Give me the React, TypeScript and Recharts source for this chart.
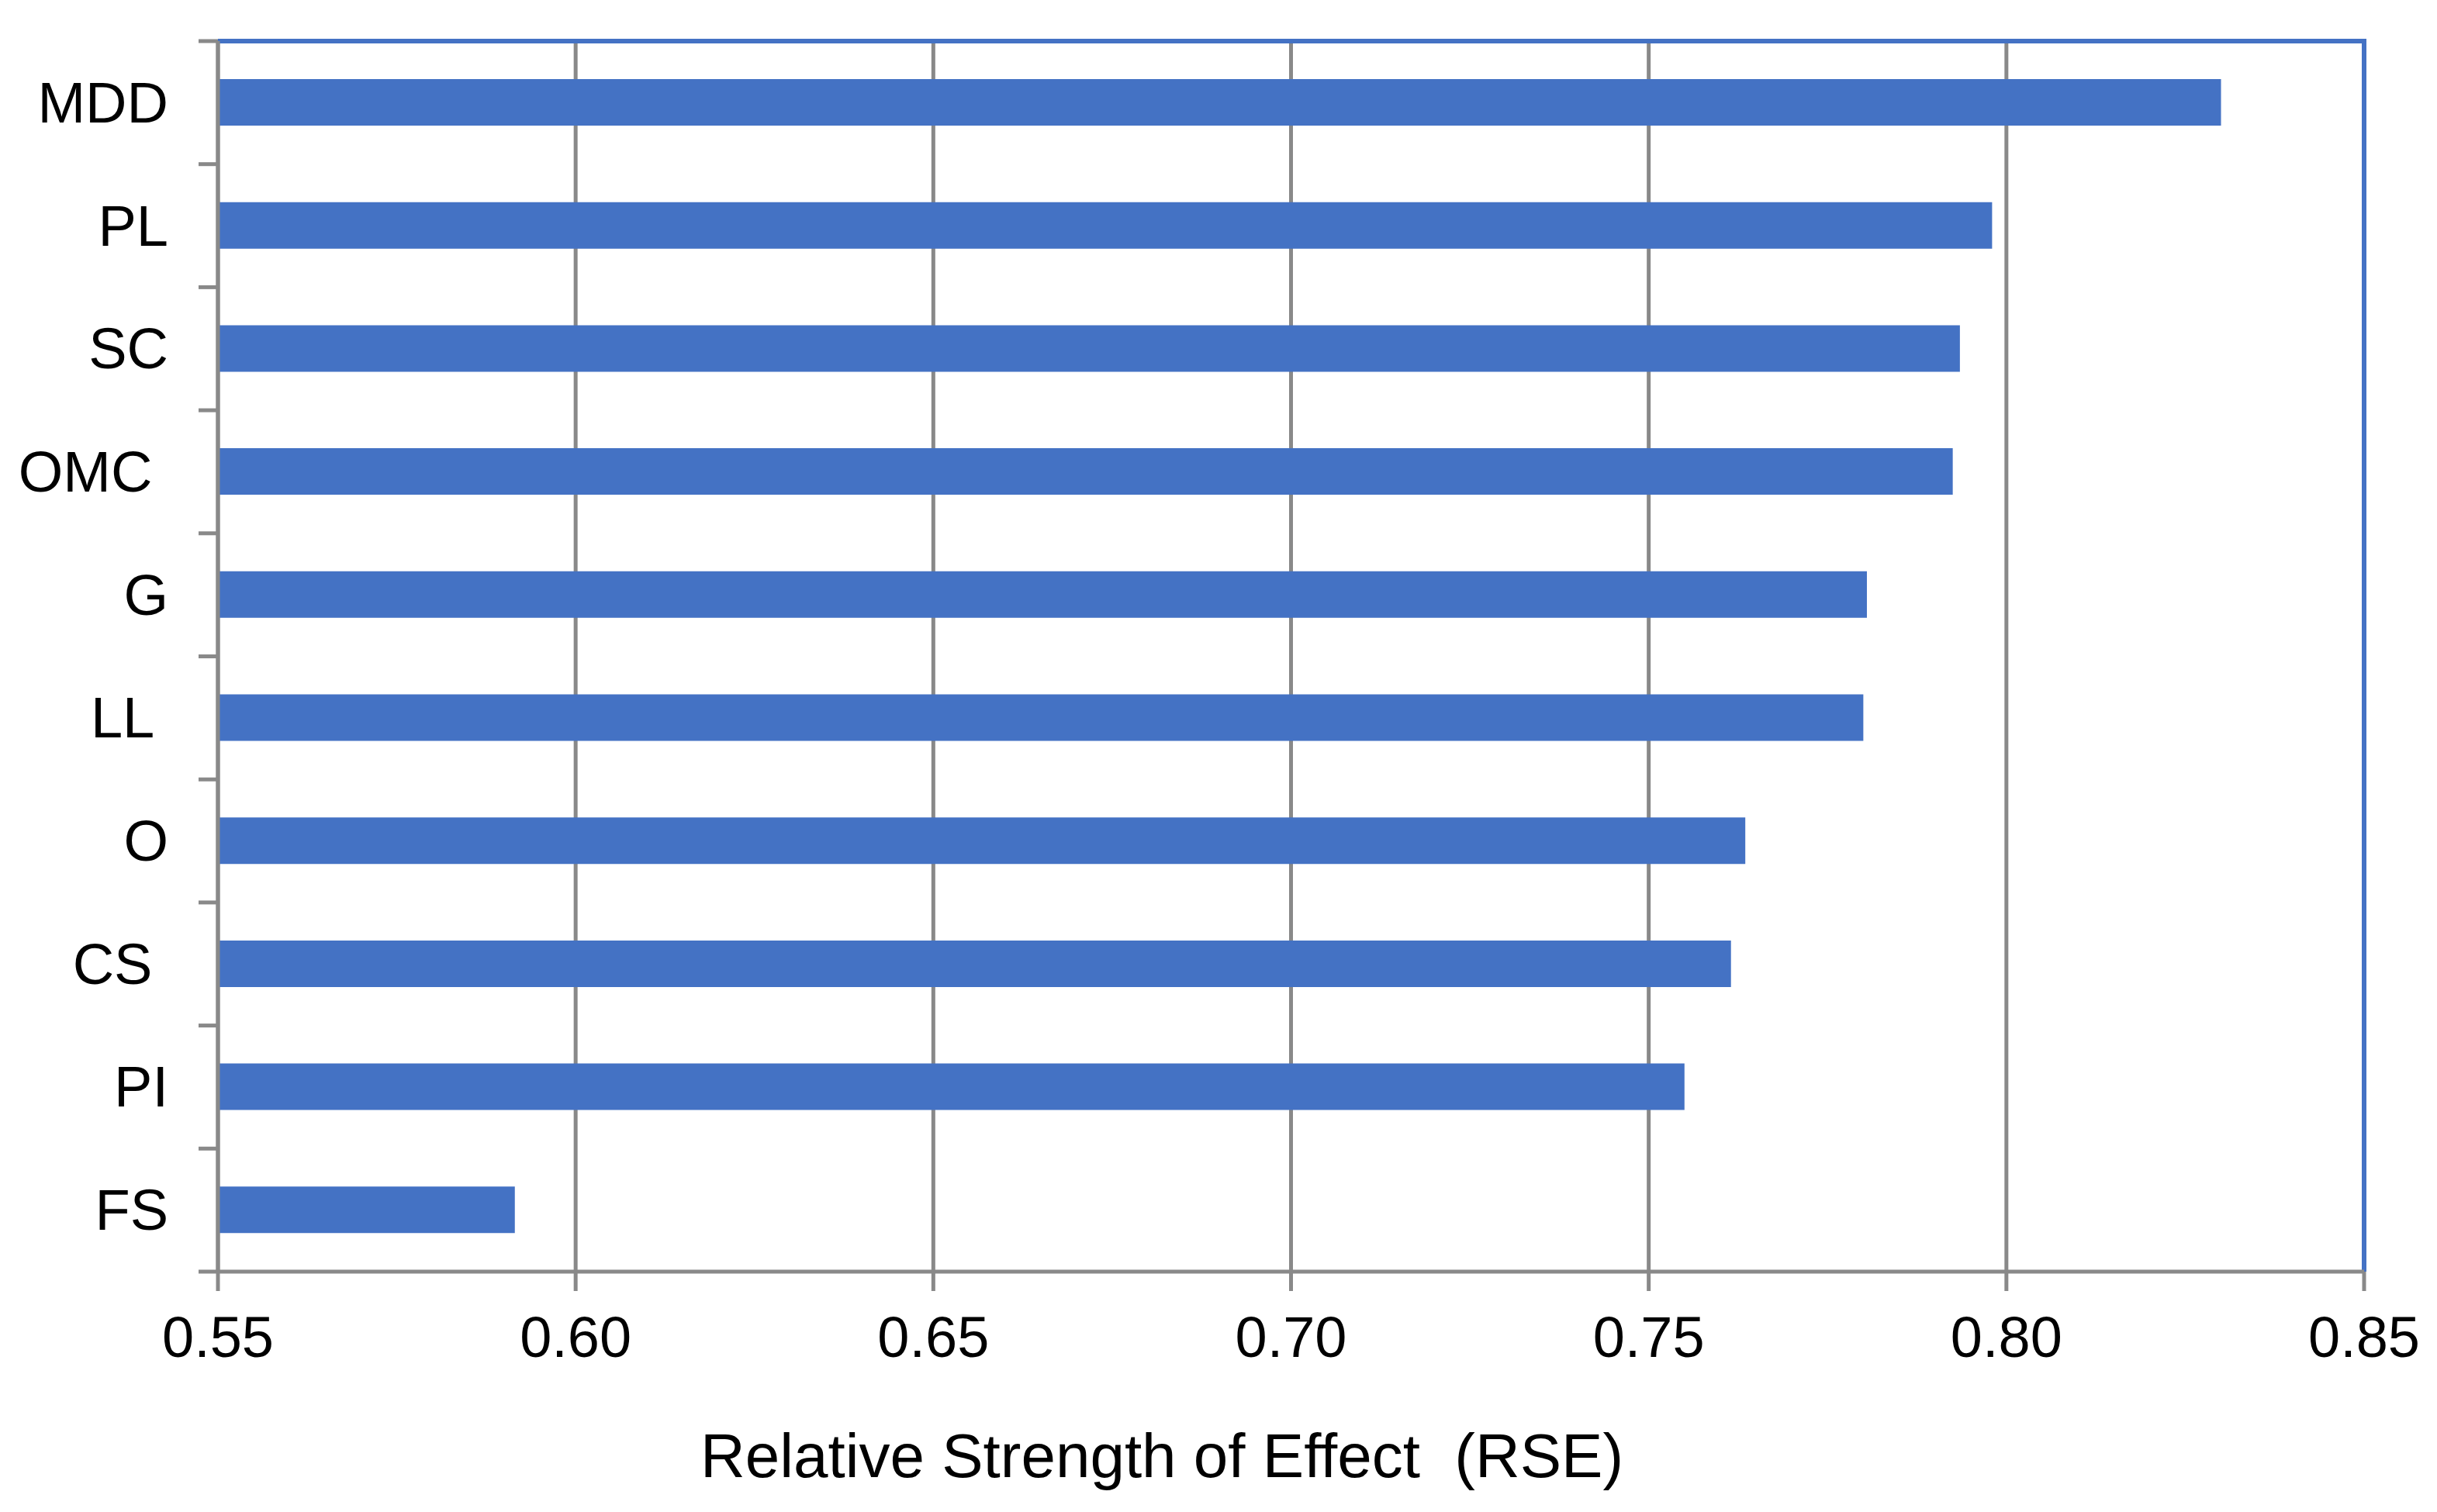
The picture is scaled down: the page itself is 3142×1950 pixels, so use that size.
import { BarChart, Bar, XAxis, YAxis, CartesianGrid, ReferenceArea } from 'recharts'

// Relative strength of effect per factor, top to bottom as drawn
const categories = ['MDD', 'PL', 'SC', 'OMC ', 'G', 'LL ', 'O', 'CS ', 'PI', 'FS']
const rseValues = [0.830, 0.798, 0.7935, 0.7925, 0.7805, 0.780, 0.7635, 0.7615, 0.755, 0.5915]
const xTicks = [0.55, 0.6, 0.65, 0.7, 0.75, 0.8, 0.85]
const xTitle = 'Relative Strength of Effect  (RSE)'

const data = categories.map((name, i) => ({ name, value: rseValues[i] }))

const W = 3142
const H = 1950
const TOP = 53
const BOTTOM = 1640
const LEFT = 281
const RIGHT = 3048
const BAND = (BOTTOM - TOP) / categories.length

const GRAY = '#898989'
const BLUE = '#4472C4'
const FONT = 'Arial, "Liberation Sans", sans-serif'

// top + right edges of the plot border only (dash covers the first two sides of the rect path)
const edgeDash = `${RIGHT - LEFT + BOTTOM - TOP} ${RIGHT - LEFT + BOTTOM - TOP}`

// category label plus the Excel-style tick mark sitting on the band boundary
const CategoryTick = (props: any) => {
  const { x, y, payload, index } = props
  const axisX = x + 64
  const isLast = index === categories.length - 1
  return (
    <g>
      <text
        x={x}
        y={y}
        textAnchor="end"
        dominantBaseline="central"
        fontSize={74}
        fontFamily={FONT}
        fill="#000"
        style={{ whiteSpace: 'pre' }}
      >
        {payload.value}
      </text>
      <line x1={axisX - 25} x2={axisX} y1={y - BAND / 2} y2={y - BAND / 2} stroke={GRAY} strokeWidth={5} />
      {isLast && (
        <line x1={axisX - 25} x2={axisX} y1={y + BAND / 2} y2={y + BAND / 2} stroke={GRAY} strokeWidth={5} />
      )}
    </g>
  )
}

const XTitle = () => (
  <text
    x={1498}
    y={1905}
    textAnchor="middle"
    fontSize={80}
    fontFamily={FONT}
    fill="#000"
    style={{ whiteSpace: 'pre' }}
  >
    {xTitle}
  </text>
)

export default function App() {
  return (
    <div style={{ position: 'absolute', left: 0, top: 0, width: W, height: H, background: '#fff' }}>
      <BarChart
        width={W}
        height={H}
        data={data}
        layout="vertical"
        margin={{ top: TOP, right: W - RIGHT, bottom: 0, left: 0 }}
        barCategoryGap={0}
      >
        <CartesianGrid horizontal={false} stroke={GRAY} strokeWidth={5} />
        <ReferenceArea
          x1={0.55}
          x2={0.85}
          fill="none"
          stroke={BLUE}
          strokeWidth={6}
          strokeDasharray={edgeDash}
          ifOverflow="visible"
        />
        <XAxis
          type="number"
          domain={[0.55, 0.85]}
          ticks={xTicks}
          allowDataOverflow
          interval={0}
          tickFormatter={(v: number) => v.toFixed(2)}
          height={H - BOTTOM}
          axisLine={{ stroke: GRAY, strokeWidth: 5 }}
          tickLine={{ stroke: GRAY, strokeWidth: 5 }}
          tickSize={25}
          tickMargin={32}
          tick={{ fontSize: 74, fontFamily: FONT, fill: '#000' }}
          label={<XTitle />}
        />
        <YAxis
          type="category"
          dataKey="name"
          width={LEFT}
          interval={0}
          tickSize={25}
          tickMargin={39}
          tickLine={false}
          axisLine={{ stroke: GRAY, strokeWidth: 5 }}
          tick={<CategoryTick />}
        />
        <Bar dataKey="value" fill={BLUE} barSize={60} isAnimationActive={false} />
      </BarChart>
    </div>
  )
}
